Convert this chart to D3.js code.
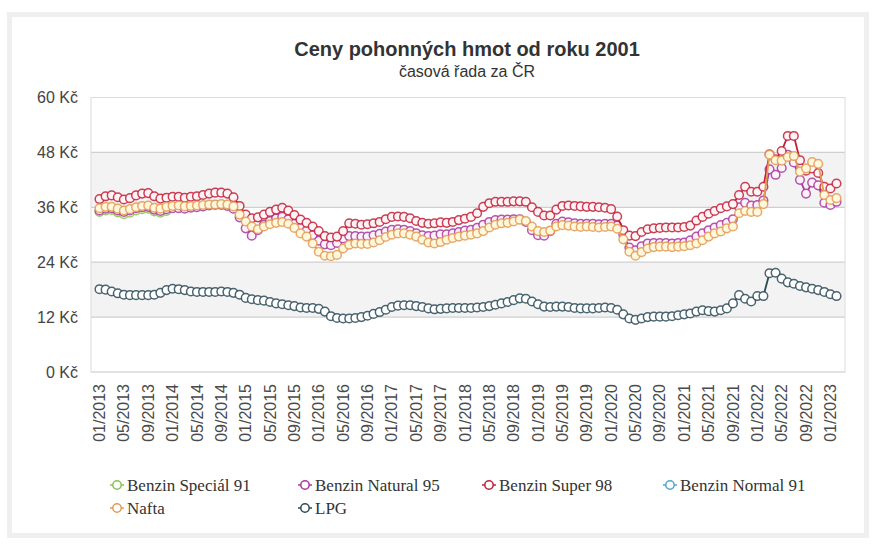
<!DOCTYPE html>
<html>
<head>
<meta charset="utf-8">
<script src="https://cdn.jsdelivr.net/npm/d3@7/dist/d3.min.js"></script>
<style>
  body { margin: 0; background: #fff; }
  text { font-family: Arial, "Liberation Sans", sans-serif; }
  .legend text { font-family: "Liberation Serif", "Times New Roman", serif; }
</style>
</head>
<body>
<svg id="svg" width="875" height="544"></svg>
<script>
// ----- data (monthly averages, Kč/l), 01/2013 .. 02/2023 -----
const months = [];
for (let y = 2013; y <= 2023; y++) {
  for (let m = 1; m <= 12; m++) {
    if (y === 2023 && m > 2) break;
    months.push(String(m).padStart(2, "0") + "/" + y);
  }
}
const tickLabels = months.filter((d, i) => i % 4 === 0);

const special91 = [
  35.0, 35.3, 35.4, 34.9, 34.5, 34.8, 35.3, 35.6, 35.7, 35.1, 34.8, 35.2
];

const natural95 = [].concat(
  [35.3, 35.7, 35.8, 35.3, 35.0, 35.3, 35.8, 36.0, 36.1, 35.5, 35.2, 35.6],
  [35.8, 35.8, 35.7, 35.9, 36.0, 36.2, 36.4, 36.5, 36.5, 36.3, 35.7, 33.8],
  [31.4, 29.8, 31.0, 32.2, 33.0, 33.6, 33.9, 33.4, 32.4, 31.5, 30.9, 29.9],
  [28.7, 27.9, 27.7, 28.2, 29.2, 29.7, 29.7, 29.6, 29.6, 29.9, 30.2, 30.7],
  [31.1, 31.2, 31.1, 30.8, 30.3, 29.9, 29.7, 29.8, 30.1, 30.1, 30.3, 30.6],
  [30.9, 31.1, 31.5, 32.2, 32.8, 33.2, 33.3, 33.3, 33.4, 33.4, 32.8, 31.0],
  [29.9, 29.8, 30.8, 32.4, 32.9, 32.7, 32.5, 32.4, 32.4, 32.4, 32.3, 32.4],
  [32.4, 32.0, 30.0, 27.2, 26.6, 27.5, 28.1, 28.2, 28.2, 28.2, 28.1, 28.2],
  [28.3, 28.8, 29.6, 30.3, 31.0, 31.6, 32.1, 32.6, 33.4, 36.0, 37.0, 36.4],
  [36.5, 37.5, 44.3, 43.1, 44.6, 47.5, 45.8, 42.0, 39.0, 41.4, 40.8, 37.0],
  [36.5, 37.2]
);

const super98 = [].concat(
  [37.8, 38.4, 38.6, 38.2, 37.7, 38.0, 38.6, 39.0, 39.1, 38.4, 37.9, 38.1],
  [38.3, 38.3, 38.1, 38.3, 38.4, 38.7, 39.0, 39.2, 39.2, 39.0, 38.2, 36.3],
  [34.4, 33.6, 33.8, 34.4, 35.0, 35.5, 35.9, 35.3, 34.3, 33.3, 32.6, 31.8],
  [30.8, 29.7, 29.4, 29.6, 30.8, 32.5, 32.4, 32.2, 32.3, 32.5, 32.8, 33.4],
  [33.9, 34.0, 33.9, 33.6, 33.0, 32.6, 32.4, 32.5, 32.7, 32.6, 32.8, 33.2],
  [33.5, 33.9, 34.7, 36.1, 36.9, 37.2, 37.2, 37.2, 37.3, 37.3, 37.2, 36.0],
  [35.0, 34.2, 34.2, 35.5, 36.3, 36.4, 36.3, 36.2, 36.1, 36.1, 36.0, 35.9],
  [35.6, 34.0, 31.0, 29.8, 29.7, 30.6, 31.2, 31.4, 31.5, 31.6, 31.6, 31.6],
  [31.7, 32.0, 33.1, 33.9, 34.6, 35.2, 35.8, 36.2, 36.7, 38.7, 40.5, 39.4],
  [39.4, 40.5, 47.6, 46.5, 48.3, 51.6, 51.6, 46.3, 44.0, 44.5, 43.5, 40.5],
  [40.1, 41.2]
);

const normal91 = [];

const nafta = [].concat(
  [35.8, 36.1, 36.1, 35.7, 35.3, 35.6, 36.0, 36.3, 36.4, 35.9, 35.7, 36.1],
  [36.3, 36.4, 36.2, 36.3, 36.4, 36.5, 36.6, 36.6, 36.7, 36.6, 36.2, 34.4],
  [32.9, 31.8, 31.2, 31.8, 32.3, 32.6, 32.8, 32.4, 31.5, 30.3, 29.6, 28.1],
  [26.3, 25.4, 25.3, 25.6, 27.0, 27.8, 28.1, 28.0, 28.0, 28.3, 28.8, 29.5],
  [30.0, 30.3, 30.3, 30.0, 29.6, 28.9, 28.3, 28.1, 28.4, 28.9, 29.3, 29.6],
  [29.8, 30.0, 30.3, 30.8, 31.6, 32.2, 32.5, 32.6, 32.9, 33.3, 33.0, 31.8],
  [30.8, 30.6, 30.9, 31.8, 32.1, 32.0, 31.8, 31.7, 31.8, 31.7, 31.6, 31.7],
  [31.8, 31.3, 29.0, 26.3, 25.4, 26.2, 27.0, 27.3, 27.4, 27.4, 27.3, 27.4],
  [27.5, 27.7, 28.1, 28.8, 29.6, 30.3, 30.7, 31.4, 31.8, 34.7, 35.2, 35.0],
  [35.0, 36.7, 47.5, 46.3, 46.2, 47.0, 47.2, 43.8, 44.5, 45.9, 45.5, 38.7],
  [37.6, 38.0]
);

const lpg = [].concat(
  [18.1, 18.0, 17.6, 17.2, 16.9, 16.8, 16.8, 16.8, 16.8, 16.9, 17.3, 17.9],
  [18.2, 18.1, 17.9, 17.6, 17.5, 17.5, 17.5, 17.5, 17.6, 17.5, 17.3, 16.9],
  [16.2, 15.9, 15.7, 15.6, 15.3, 15.0, 14.8, 14.6, 14.4, 14.1, 14.0, 14.0],
  [13.8, 13.2, 12.2, 11.8, 11.7, 11.7, 11.8, 12.0, 12.3, 12.7, 13.1, 13.6],
  [14.2, 14.5, 14.6, 14.6, 14.4, 14.2, 13.9, 13.7, 13.8, 13.9, 14.0, 14.0],
  [14.0, 14.0, 14.1, 14.2, 14.4, 14.7, 15.0, 15.3, 15.7, 16.1, 16.0, 15.4],
  [14.8, 14.3, 14.2, 14.3, 14.3, 14.2, 14.0, 13.9, 13.9, 13.9, 14.0, 14.1],
  [14.0, 13.6, 12.6, 11.7, 11.4, 11.7, 12.0, 12.1, 12.1, 12.1, 12.2, 12.4],
  [12.6, 12.8, 13.2, 13.5, 13.3, 13.2, 13.5, 13.9, 15.0, 16.8, 16.0, 15.4],
  [16.6, 16.6, 21.6, 21.7, 20.4, 19.6, 19.3, 18.8, 18.5, 18.2, 17.9, 17.5],
  [17.0, 16.6]
);

const seriesNames = ["Benzin Speciál 91", "Benzin Natural 95", "Benzin Super 98", "Benzin Normal 91", "Nafta", "LPG"];
const seriesValues = [special91, natural95, super98, normal91, nafta, lpg];
const seriesColors = ["#8cc152", "#a8379e", "#c21f3a", "#4fa6cc", "#e39a55", "#2c4a58"];
const markerFills = ["#f6fbe8", "#fdf2fb", "#fff4f5", "#f0f8fc", "#fff8dc", "#ffffff"];
const yTicks = [0, 12, 24, 36, 48, 60];

// ----- layout -----
const svg = d3.select("#svg");
const plot = { left: 91, right: 845, top: 97.5, bottom: 372 };

const x = d3.scalePoint().domain(months).range([99.5, 836.5]);
const y = d3.scaleLinear().domain([0, 60]).range([plot.bottom, plot.top]);

// outer frame
svg.append("rect").attr("x", 7).attr("y", 12).attr("width", 862).attr("height", 526).attr("fill", "#efefef");
svg.append("rect").attr("x", 12).attr("y", 17).attr("width", 852).attr("height", 516).attr("fill", "#fff");

// title
svg.append("text").attr("x", 467).attr("y", 56).attr("text-anchor", "middle")
  .attr("font-size", 20).attr("font-weight", "bold").attr("fill", "#333")
  .text("Ceny pohonných hmot od roku 2001");
svg.append("text").attr("x", 467).attr("y", 77).attr("text-anchor", "middle")
  .attr("font-size", 16).attr("fill", "#333")
  .text("časová řada za ČR");

// alternating bands
const bands = d3.pairs(yTicks).filter((p, i) => i % 2 === 1);
svg.append("g").selectAll("rect").data(bands).enter().append("rect")
  .attr("x", plot.left).attr("width", plot.right - plot.left)
  .attr("y", d => y(d[1])).attr("height", d => y(d[0]) - y(d[1]))
  .attr("fill", "#f3f3f3");

// grid
svg.append("g").selectAll("line").data(yTicks).enter().append("line")
  .attr("x1", plot.left).attr("x2", plot.right)
  .attr("y1", d => y(d)).attr("y2", d => y(d))
  .attr("stroke", "#cfcfcf").attr("stroke-width", 1.2);
svg.append("rect").attr("x", plot.left).attr("y", plot.top)
  .attr("width", plot.right - plot.left).attr("height", plot.bottom - plot.top)
  .attr("fill", "none").attr("stroke", "#dcdcdc");

// y labels
svg.append("g").selectAll("text").data(yTicks).enter().append("text")
  .attr("x", 78).attr("y", d => y(d)).attr("dy", "0.35em")
  .attr("text-anchor", "end").attr("font-size", 16).attr("fill", "#444")
  .text(d => d + " Kč");

// x labels (rotated)
svg.append("g").selectAll("text").data(tickLabels).enter().append("text")
  .attr("transform", d => `translate(${x(d)},384) rotate(-90)`)
  .attr("dy", "0.35em").attr("text-anchor", "end")
  .attr("font-size", 16).attr("fill", "#4a4a4a")
  .text(d => d);

// series
const line = d3.line()
  .defined(d => d.v != null)
  .x(d => x(d.m)).y(d => y(d.v));

seriesValues.forEach((vals, si) => {
  const pts = months.map((m, i) => ({ m, v: vals[i] == null ? null : vals[i] }));
  const g = svg.append("g");
  g.append("path").datum(pts).attr("d", line)
    .attr("fill", "none").attr("stroke", seriesColors[si]).attr("stroke-width", 1.8);
  g.selectAll("circle").data(pts.filter(d => d.v != null)).enter().append("circle")
    .attr("cx", d => x(d.m)).attr("cy", d => y(d.v)).attr("r", 4.3)
    .attr("fill", markerFills[si]).attr("stroke", seriesColors[si]).attr("stroke-width", 1.5)
    .attr("stroke-opacity", 0.85);
});

// legend
const legendPos = [[117, 485], [305, 485], [489, 485], [670, 485], [117, 508], [305, 508]];
const lg = svg.append("g").attr("class", "legend");
seriesNames.forEach((name, i) => {
  const [lx, ly] = legendPos[i];
  const it = lg.append("g").attr("transform", `translate(${lx},${ly})`);
  it.append("line").attr("x1", -7).attr("x2", 7).attr("stroke", seriesColors[i]).attr("stroke-width", 1.5);
  it.append("circle").attr("r", 4.2).attr("fill", "#fff").attr("stroke", seriesColors[i]).attr("stroke-width", 1.5);
  it.append("text").attr("x", 10).attr("dy", "0.35em").attr("font-size", 17).attr("fill", "#333").text(name);
});
</script>
</body>
</html>
